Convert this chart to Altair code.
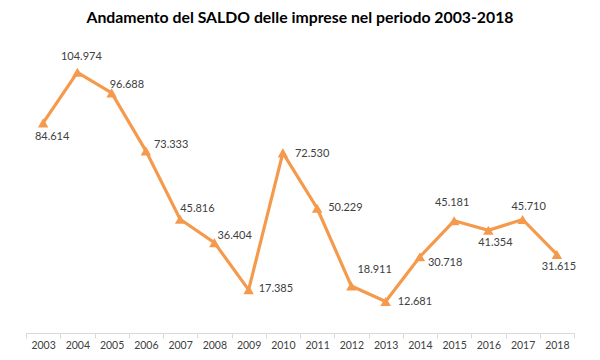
import altair as alt
import pandas as pd

# ---- data ----
years = [str(y) for y in range(2003, 2019)]
saldo = [84614, 104974, 96688, 73333, 45816, 36404, 17385, 72530,
         50229, 18911, 12681, 30718, 45181, 41354, 45710, 31615]
title_text = "Andamento del SALDO delle imprese nel periodo 2003-2018"

df = pd.DataFrame({"anno": years, "saldo": saldo})
df["etichetta"] = [f"{v:,}".replace(",", ".") for v in saldo]

# ---- label placement (style, per year): align, dx, dy ----
placement = {
    "2003": ("center", 9, 14),
    "2004": ("center", 4, -15),
    "2005": ("left", -2, -8),
    "2006": ("left", 8, -6),
    "2007": ("left", 0, -10),
    "2008": ("left", 3, -7),
    "2009": ("left", 10, -1),
    "2010": ("left", 12, 1),
    "2011": ("left", 11, 0),
    "2012": ("left", 6, -16),
    "2013": ("left", 12, 0),
    "2014": ("left", 8, 6),
    "2015": ("center", -2, -18),
    "2016": ("center", 7, 13),
    "2017": ("center", 6, -12),
    "2018": ("center", 2, 13),
}

ORANGE = "#F59A4C"
FONT = "Lato"

x_enc = alt.X(
    "anno:N",
    sort=years,
    bandPosition=0.5,
    scale=alt.Scale(type="band", paddingInner=0, paddingOuter=0),
    axis=alt.Axis(
        title=None,
        labelAngle=0,
        labelFont=FONT,
        labelFontSize=10.5,
        labelColor="#404040",
        labelPadding=2,
        domainColor="#D9D9D9",
        domainWidth=1,
        tickColor="#D9D9D9",
        tickSize=5,
        tickBand="extent",
        grid=False,
    ),
)
y_enc = alt.Y("saldo:Q", scale=alt.Scale(domain=[0, 120000], nice=False, zero=True), axis=None)

base = alt.Chart(df)

line = base.mark_line(color=ORANGE, strokeWidth=3.2).encode(x=x_enc, y=y_enc)
points = base.mark_point(shape="triangle-up", filled=True, size=110, color=ORANGE, opacity=1).encode(
    x=x_enc, y=y_enc
)

label_layers = []
for yr, (al, dx, dy) in placement.items():
    label_layers.append(
        base.transform_filter(alt.datum.anno == yr)
        .mark_text(align=al, baseline="middle", dx=dx, dy=dy, font=FONT, fontSize=11, color="#404040")
        .encode(x=x_enc, y=y_enc, text="etichetta:N")
    )

chart = (
    alt.layer(line, points, *label_layers)
    .properties(
        width=548,
        height=298,
        autosize=alt.AutoSizeParams(type="none"),
        padding={"left": 18, "top": 27, "right": 18, "bottom": 19},
        view=alt.ViewBackground(strokeWidth=0, strokeOpacity=0, fill="white"),
        title=alt.TitleParams(
            text=title_text,
            anchor="middle",
            font=FONT,
            fontSize=15.8,
            fontWeight="bold",
            color="#000000",
            offset=8,
        ),
    )
    .configure_view(strokeWidth=0, strokeOpacity=0)
    .configure(background="white")
)

chart.save("out.html", embed_options={"renderer": "svg", "actions": False})
